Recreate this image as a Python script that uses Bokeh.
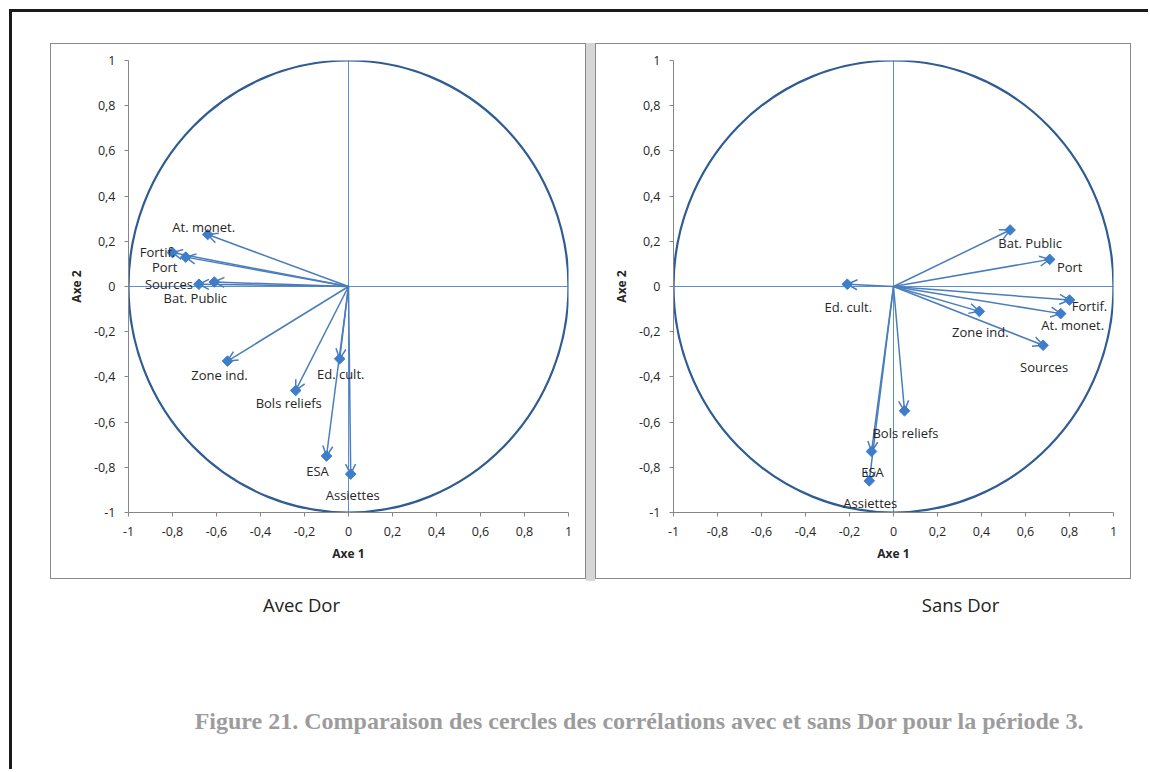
from bokeh.plotting import figure
from bokeh.models import (Range1d, ColumnDataSource, Arrow, OpenHead, Span, FixedTicker,
                          CustomJSTickFormatter, Spacer)
from bokeh.layouts import column, row
from bokeh.embed import file_html
from bokeh.resources import INLINE
from bokeh.core.properties import value

# ---------------- data ----------------
ticks = [-1, -0.8, -0.6, -0.4, -0.2, 0, 0.2, 0.4, 0.6, 0.8, 1]

labels_avec = ["At. monet.", "Fortif.", "Port", "Sources", "Bat. Public",
               "Zone ind.", "Bols reliefs", "Ed. cult.", "ESA", "Assiettes"]
axe1_avec = [-0.64, -0.80, -0.74, -0.68, -0.61, -0.55, -0.24, -0.04, -0.10, 0.01]
axe2_avec = [0.23, 0.15, 0.13, 0.01, 0.02, -0.33, -0.46, -0.32, -0.75, -0.83]

labels_sans = ["Bat. Public", "Port", "Ed. cult.", "Fortif.", "At. monet.",
               "Zone ind.", "Sources", "Bols reliefs", "ESA", "Assiettes"]
axe1_sans = [0.53, 0.71, -0.21, 0.80, 0.76, 0.39, 0.68, 0.05, -0.10, -0.11]
axe2_sans = [0.25, 0.12, 0.01, -0.06, -0.12, -0.11, -0.26, -0.55, -0.73, -0.86]

subtitles = ["Avec Dor", "Sans Dor"]
caption = "Figure 21. Comparaison des cercles des corrélations avec et sans Dor pour la période 3."

# label placement (pixel offsets of label centre from its point)
off_avec_dx = [-4, -15, -21, -30, -19, -8, -7, 1, -9, 2]
off_avec_dy = [-8, -1, 10, 0, 16, 14, 13, 15, 15, 21]
off_sans_dx = [20, 20, 1, 20, 12, 1, 1, 1, 1, 1]
off_sans_dy = [13, 8, 23, 6, 11, 21, 22, 22, 21, 22]

# ---------------- styles ----------------
FONT = "Open Sans"
CIRCLE = "#2E5C93"
ARROW = "#4A7EBB"
MARK = "#3D7DCA"
CROSS = "#5E8FD0"
AXIS = "#868686"
TXT = "#262626"

fmt = CustomJSTickFormatter(code="""
const s = (Math.round(tick * 10) / 10).toString();
return s.replace('.', ',');
""")


def make_chart(xs, ys, names, dx, dy):
    p = figure(width=536, height=536, x_range=Range1d(-1, 1), y_range=Range1d(-1, 1),
               output_backend="svg", toolbar_location=None,
               min_border_left=77, min_border_right=19, min_border_top=16,
               min_border_bottom=68, background_fill_color="white",
               border_fill_color="white", outline_line_color=None,
               styles={"border": "1px solid #8a8a8a"})
    p.grid.visible = False
    for ax in (p.xaxis, p.yaxis):
        ax.ticker = FixedTicker(ticks=ticks)
        ax.formatter = fmt
        ax.axis_line_color = AXIS
        ax.major_tick_line_color = AXIS
        ax.major_tick_out = 4
        ax.major_tick_in = 0
        ax.minor_tick_line_color = None
        ax.major_label_text_font = FONT
        ax.major_label_text_font_size = "12.5px"
        ax.major_label_text_color = TXT
        ax.axis_label_text_font = FONT
        ax.axis_label_text_font_size = "12px"
        ax.axis_label_text_font_style = "bold"
        ax.axis_label_text_color = TXT
    p.xaxis.axis_label = "Axe 1"
    p.yaxis.axis_label = "Axe 2"
    p.xaxis.major_label_standoff = 10
    p.xaxis.axis_label_standoff = 6
    p.yaxis.major_label_standoff = 9
    p.yaxis.axis_label_standoff = 6

    p.add_layout(Span(location=0, dimension="width", line_color=CROSS,
                      line_width=1, level="underlay"))
    p.add_layout(Span(location=0, dimension="height", line_color=CROSS,
                      line_width=1, level="underlay"))

    p.ellipse(x=[0], y=[0], width=[2], height=[2], fill_color=None,
              line_color=CIRCLE, line_width=2.2)

    src = ColumnDataSource(dict(x0=[0] * len(xs), y0=[0] * len(xs), x=xs, y=ys,
                                label=names, dx=dx, dy=dy))
    arr = Arrow(x_start="x0", y_start="y0", x_end="x", y_end="y", source=src,
                line_color=ARROW, line_width=1.5, level="underlay",
                end=OpenHead(size=10, line_color=ARROW, line_width=1.5))
    p.add_layout(arr)
    p.scatter(x="x", y="y", source=src, marker="square", size=7.5, angle=0.785398,
              fill_color=MARK, line_color=MARK)
    p.text(x="x", y="y", text="label", x_offset="dx", y_offset="dy", source=src,
           text_align="center", text_baseline="middle", text_font=value(FONT),
           text_font_size="13px", text_color=TXT)
    return p


left = make_chart(axe1_avec, axe2_avec, labels_avec, off_avec_dx, off_avec_dy)
right = make_chart(axe1_sans, axe2_sans, labels_sans, off_sans_dx, off_sans_dy)

gap = Spacer(width=9, height=538, styles={"background-color": "#d6d6d6"})

CAP_W, CAP_H = 1136, 188
cap = figure(width=CAP_W, height=CAP_H, x_range=Range1d(0, CAP_W), y_range=Range1d(CAP_H, 0),
             output_backend="svg", toolbar_location=None, min_border=0,
             x_axis_location=None, y_axis_location=None, outline_line_color=None,
             background_fill_color="white", border_fill_color="white")
cap.grid.visible = False
cap.text(x=[289, 948], y=[23, 23], text=subtitles, text_align="center",
         text_baseline="middle", text_font=value(FONT), text_font_size="18.5px",
         text_color="#222222")
cap.text(x=[627], y=[139], text=[caption], text_align="center", text_baseline="middle",
         text_font=value("Liberation Serif"), text_font_size="24px",
         text_font_style="bold", text_color="#9c9c9c")

root = column(
    Spacer(width=10, height=31),
    row(Spacer(width=38, height=538), left, gap, right),
    cap,
    styles={"border-left": "3px solid #1a1a1a", "border-top": "3px solid #1a1a1a",
            "margin": "9px 0 0 9px"},
)

open("out.html", "w").write(file_html(root, INLINE))
